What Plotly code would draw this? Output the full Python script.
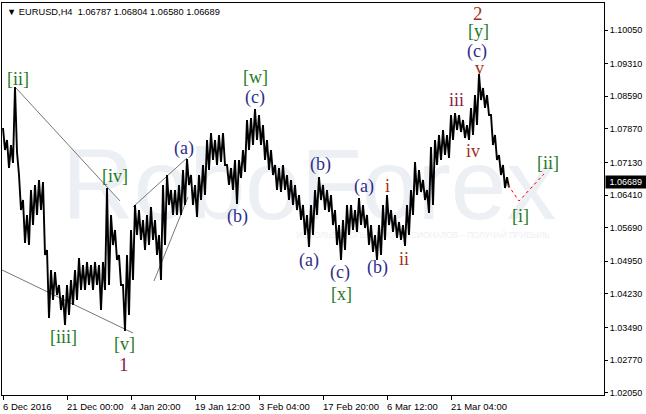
import plotly.graph_objects as go

bar_idx = list(range(0, 505, 4))
highs = [1.07889, 1.07625, 1.07514, 1.08794, 1.06852, 1.06301, 1.05970, 1.06522, 1.06632, 1.06742,
         1.06698, 1.05198, 1.04757, 1.04713, 1.04426, 1.04205, 1.04426, 1.04536, 1.04757, 1.05022,
         1.04867, 1.04933, 1.04867, 1.04933, 1.04867, 1.04933, 1.06566, 1.05970, 1.05639, 1.05088,
         1.04426, 1.05088, 1.05639, 1.06191, 1.06080, 1.05860, 1.05970, 1.06147, 1.05860, 1.05529,
         1.06632, 1.06852, 1.06522, 1.06522, 1.06632, 1.06963, 1.07205, 1.06852, 1.06632, 1.06852,
         1.07073, 1.07625, 1.07779, 1.07625, 1.07735, 1.07779, 1.07073, 1.07007, 1.07183, 1.07183,
         1.07404, 1.08066, 1.08110, 1.08308, 1.08176, 1.07955, 1.07625, 1.07404, 1.07073, 1.07007,
         1.07073, 1.06852, 1.06742, 1.06632, 1.06411, 1.06191, 1.05970, 1.06191, 1.06522, 1.06808,
         1.06632, 1.06522, 1.06411, 1.06080, 1.05749, 1.05860, 1.06191, 1.06191, 1.06080, 1.06345,
         1.06191, 1.05970, 1.05749, 1.05529, 1.05749, 1.06191, 1.06411, 1.06080, 1.05970, 1.05816,
         1.05749, 1.06191, 1.06522, 1.07139, 1.06963, 1.06742, 1.06522, 1.07470, 1.07625, 1.07735,
         1.07845, 1.07735, 1.08176, 1.08220, 1.08176, 1.08066, 1.07955, 1.08331, 1.08617, 1.09081,
         1.08772, 1.08617, 1.08176, 1.07735, 1.07294, 1.07073, 1.06804]
lows = [1.07404, 1.07007, 1.07117, 1.07360, 1.06080, 1.05352, 1.05308, 1.05749, 1.05970, 1.06080,
        1.05088, 1.03698, 1.04095, 1.04205, 1.03874, 1.03543, 1.03764, 1.03985, 1.04095, 1.04316,
        1.04316, 1.04426, 1.04316, 1.04426, 1.03874, 1.04316, 1.04426, 1.05308, 1.04977, 1.04426,
        1.03411, 1.03764, 1.04536, 1.05529, 1.05419, 1.05198, 1.05308, 1.05419, 1.05088, 1.04536,
        1.05308, 1.06191, 1.05970, 1.05970, 1.05970, 1.06191, 1.06632, 1.06191, 1.05926, 1.06301,
        1.06411, 1.06963, 1.07183, 1.07073, 1.07139, 1.07073, 1.06632, 1.06522, 1.06213, 1.06786,
        1.06919, 1.07404, 1.07514, 1.07625, 1.07514, 1.07183, 1.06963, 1.06852, 1.06522, 1.06477,
        1.06522, 1.06301, 1.06191, 1.06080, 1.05860, 1.05529, 1.05264, 1.05529, 1.05970, 1.06301,
        1.06080, 1.06036, 1.05749, 1.05308, 1.04977, 1.05198, 1.05529, 1.05639, 1.05595, 1.05749,
        1.05683, 1.05308, 1.05154, 1.04977, 1.05088, 1.05419, 1.05749, 1.05595, 1.05463, 1.05419,
        1.05286, 1.05529, 1.05970, 1.06411, 1.06477, 1.06301, 1.06014, 1.06191, 1.07073, 1.07183,
        1.07294, 1.07228, 1.07625, 1.07845, 1.07801, 1.07669, 1.07625, 1.07735, 1.07955, 1.08507,
        1.08331, 1.08176, 1.07514, 1.07183, 1.06852, 1.06566, 1.06580]
last_price = 1.06689

y_ticks = [1.0205, 1.0277, 1.0349, 1.0423, 1.0495, 1.0569, 1.0641, 1.0713, 1.0787, 1.0859, 1.0931, 1.1005]
x_ticks = [0, 64, 128, 192, 256, 320, 384, 448]
x_labels = ["6 Dec 2016", "21 Dec 00:00", "4 Jan 20:00", "19 Jan 12:00",
            "3 Feb 04:00", "17 Feb 20:00", "6 Mar 12:00", "21 Mar 04:00"]

# trend lines: (x0, y0, x1, y1) in bar index / price
trend_lines = [(13, 1.08772, 117, 1.06279),
               (-1, 1.04757, 130, 1.03367),
               (130, 1.06147, 184, 1.07228),
               (151, 1.04514, 185, 1.06367)]
forecast_x = [505, 516, 541]
forecast_y = [1.06632, 1.06279, 1.06875]

# wave labels
GREEN = "#1f7a1f"
BLUE = "#2e2e8a"
RED = "#a3301c"
PURPLE = "#8c1c4c"
wave_text = ["[ii]", "[iv]", "[iii]", "[v]", "1", "(a)", "[w]", "(c)", "(b)", "(b)", "(a)", "(c)", "[x]",
             "(a)", "(b)", "i", "ii", "iii", "iv", "v", "(c)", "[y]", "2", "[i]", "[ii]"]
wave_x = [15, 112, 60, 121, 121, 181, 252, 252, 234, 317, 306, 337, 338,
          361, 374, 384, 401, 453, 470, 476, 474, 475, 475, 517, 545]
wave_y = [1.08970, 1.06830, 1.03279, 1.03124, 1.02661, 1.07448, 1.09014, 1.08573, 1.05948, 1.07095,
          1.04977, 1.04691, 1.04227, 1.06588, 1.04801, 1.06610, 1.04999, 1.08507, 1.07382, 1.09213,
          1.09588, 1.10029, 1.10426, 1.05948, 1.07117]
wave_color = [GREEN, GREEN, GREEN, GREEN, PURPLE, BLUE, GREEN, BLUE, BLUE, BLUE, BLUE, BLUE, GREEN,
              BLUE, BLUE, RED, RED, PURPLE, RED, RED, BLUE, GREEN, RED, GREEN, GREEN]

# each sample drawn as a high point followed by a low point, like dense H4 bars
zz_x, zz_y = [], []
for x, h, l in zip(bar_idx, highs, lows):
  zz_x += [x, x + 2]
  zz_y += [h, l]

fig = go.Figure()

# watermark behind the bars
fig.add_trace(go.Scatter(x=[306], y=[1.06433], mode="text", text=["RoboForex"],
                         textfont=dict(family="Liberation Sans", size=100, color="#ecf0f4"),
                         hoverinfo="skip", showlegend=False))
fig.add_trace(go.Scatter(x=[420], y=[1.05507], mode="text",
                         text=["ИСПОЛЬЗУЙ ОПЫТ ПРОФЕССИОНАЛОВ – ПОЛУЧАЙ ПРИБЫЛЬ"],
                         textfont=dict(family="Liberation Sans", size=8.2, color="#edf0f4"),
                         hoverinfo="skip", showlegend=False))

for x0, y0, x1, y1 in trend_lines:
  fig.add_trace(go.Scatter(x=[x0, x1], y=[y0, y1], mode="lines",
                           line=dict(color="#777777", width=1), hoverinfo="skip", showlegend=False))

fig.add_trace(go.Scatter(x=zz_x, y=zz_y, mode="lines", line=dict(color="black", width=1.9),
                         showlegend=False))

fig.add_trace(go.Scatter(x=forecast_x, y=forecast_y, mode="lines",
                         line=dict(color="red", width=1, dash="3px,3px"), showlegend=False))

annotations = []
for t, x, y, c in zip(wave_text, wave_x, wave_y, wave_color):
  size = 19 if t in ("1", "2") else 18
  annotations.append(dict(x=x, y=y, text=t, showarrow=False,
                          font=dict(family="Liberation Serif", size=size, color=c)))

for x, lab in zip(x_ticks, x_labels):
  annotations.append(dict(x=x, y=0, yref="paper", text=lab, showarrow=False, xanchor="left",
                          yanchor="top", xshift=-2, yshift=-4,
                          font=dict(family="Liberation Sans", size=9.5, color="black")))

annotations.append(dict(x=0, y=1, xref="paper", yref="paper", xanchor="left", yanchor="top",
                        xshift=3, yshift=-2, showarrow=False,
                        text="▼ EURUSD,H4\u00a0\u00a0" + "\u00a0".join(["1.06787", "1.06804", "1.06580", "1.06689"]),
                        font=dict(family="Liberation Sans", size=9.3, color="black")))

annotations.append(dict(x=1, y=last_price, xref="paper", yref="y", xanchor="left", showarrow=False,
                        xshift=1, text="\u00a0" + "%.5f" % last_price + "\u00a0", bgcolor="black",
                        borderpad=1, font=dict(family="Liberation Sans", size=9, color="white")))

fig.update_layout(width=646, height=414, margin=dict(l=2, r=42, t=3, b=19),
                  plot_bgcolor="white", paper_bgcolor="white", showlegend=False,
                  annotations=annotations,
                  font=dict(family="Liberation Sans", size=9, color="black"))
fig.update_xaxes(range=[-1, 601], showgrid=False, zeroline=False, showline=True, mirror=True,
                 linecolor="black", linewidth=1, tickvals=x_ticks, ticks="outside", ticklen=4,
                 tickcolor="black", showticklabels=False)
fig.update_yaxes(range=[1.01999, 1.10647], side="right", showgrid=False, zeroline=False,
                 showline=True, mirror=True, linecolor="black", linewidth=1,
                 tickvals=y_ticks, ticktext=["%.5f" % v for v in y_ticks], ticks="outside",
                 ticklen=3, tickcolor="black")

# page has a default 8px body margin that would shift the chart
fig.write_html("out.html", config={"displayModeBar": False},
               post_script="document.body.style.margin='0';")
